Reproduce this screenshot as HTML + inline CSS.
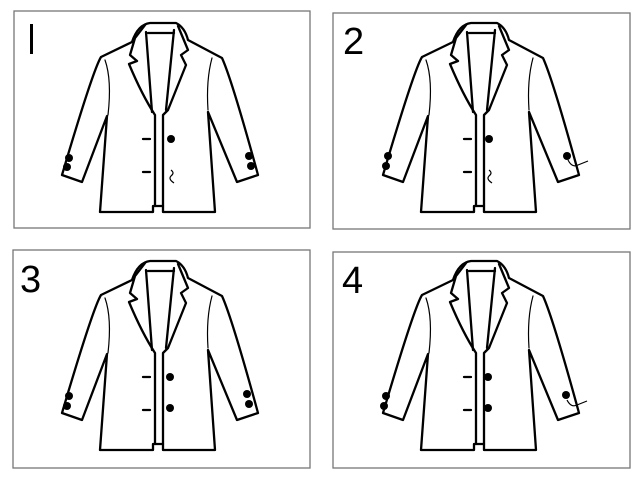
<!DOCTYPE html>
<html><head><style>body{margin:0;background:#fff}svg{display:block}</style></head><body>
<svg width="640" height="480" viewBox="0 0 640 480" xmlns="http://www.w3.org/2000/svg">
<defs>
<g id="j" fill="none" stroke="#000" stroke-width="2.3" stroke-linejoin="round" stroke-linecap="round">
<path d="M132,42 C136,30 142,24 150,23 L176,23 C182,26 186,32 188,40"/>
<path d="M132,42 L101,57 Q93,70 62,175 L82,182 L107,116 L100,212 L153,212 L153,206 L163,206 L163,212 L215,212 L208,112 L237,182 L258,175 Q232,80 222,58 L188,40" fill="#fff"/>
<path d="M145,25 L135,38 L130,55 L137,61 L129,64 Q142,95 155,115 L155,206"/>
<path d="M146,32 L152,112"/>
<path d="M148,33 L174,33"/>
<path d="M178,26 L188,50 L181,55 L186,65 L168,110 L163,115 L163,206"/>
<path d="M174,30 L166,110"/>
<path d="M105,60 Q112,80 108,115" stroke-width="1.2"/>
<path d="M212,58 Q206,80 208,110" stroke-width="1.2"/>
<path d="M143,139 L150,139 M143,172 L150,172"/>
</g>
</defs>
<g stroke="#777" stroke-width="1.3" fill="none">
<rect x="14" y="11" width="296" height="217"/>
<rect x="333" y="13" width="297" height="216"/>
<rect x="13" y="250" width="297" height="218"/>
<rect x="333" y="252" width="297" height="216"/>
</g>
<g font-family="Liberation Sans, sans-serif" font-size="38" fill="#000">
<rect x="30" y="24" width="3" height="30"/>
<text x="343" y="54">2</text>
<text x="20" y="292">3</text>
<text x="342" y="293">4</text>
</g>
<use href="#j"/>
<g fill="#000"><circle cx="171" cy="139" r="4"/><circle cx="69" cy="158" r="4"/><circle cx="67" cy="167" r="4"/><circle cx="249" cy="156" r="4"/><circle cx="251" cy="166" r="4"/></g>
<path d="M171,170 q4,3 0,6 q-3,3 3,7" stroke="#000" fill="none" stroke-width="1.2"/>
<use href="#j" x="321" y="0"/>
<g fill="#000"><circle cx="489" cy="139" r="4"/><circle cx="388" cy="156" r="4"/><circle cx="386" cy="166" r="4"/><circle cx="567" cy="156" r="4"/></g>
<path d="M489,170 q4,3 0,6 q-3,3 3,7 M568,160 q4,8 10,5 q5,-2 10,-4" stroke="#000" fill="none" stroke-width="1.2"/>
<use href="#j" x="0" y="238"/>
<g fill="#000"><circle cx="170" cy="377" r="4"/><circle cx="170" cy="408" r="4"/><circle cx="69" cy="396" r="4"/><circle cx="67" cy="406" r="4"/><circle cx="247" cy="394" r="4"/><circle cx="249" cy="404" r="4"/></g>
<use href="#j" x="321" y="238"/>
<g fill="#000"><circle cx="488" cy="377" r="4"/><circle cx="488" cy="408" r="4"/><circle cx="386" cy="396" r="4"/><circle cx="384" cy="406" r="4"/><circle cx="566" cy="395" r="4"/></g>
<path d="M567,400 q4,8 10,5 q5,-2 10,-4" stroke="#000" fill="none" stroke-width="1.2"/>
</svg>
</body></html>
